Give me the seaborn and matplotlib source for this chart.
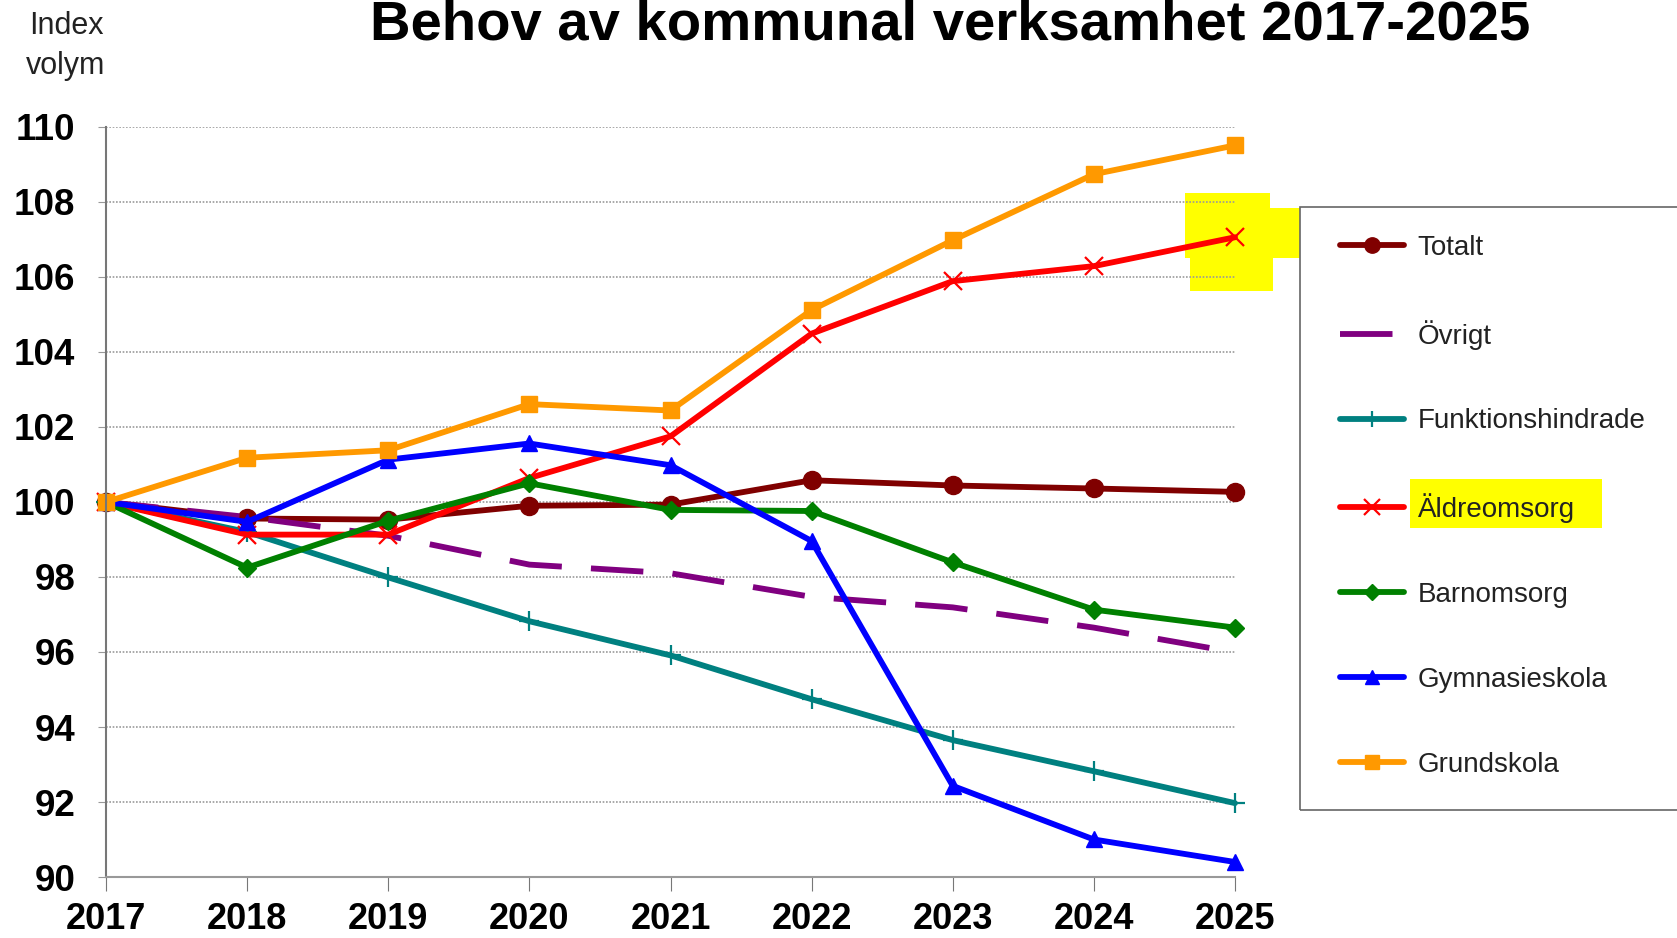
import matplotlib
matplotlib.use("Agg")
import matplotlib.pyplot as plt
from matplotlib.patches import Rectangle
import seaborn as sns

years = [2017, 2018, 2019, 2020, 2021, 2022, 2023, 2024, 2025]

totalt = [100, 99.56, 99.53, 99.9, 99.93, 100.58, 100.44, 100.36, 100.27]
ovrigt = [100, 99.6, 99.1, 98.33, 98.1, 97.47, 97.19, 96.65, 95.99]
funktionshindrade = [100, 99.2, 97.99, 96.82, 95.91, 94.74, 93.65, 92.82, 91.97]
aldreomsorg = [100, 99.13, 99.13, 100.64, 101.75, 104.49, 105.89, 106.29, 107.06]
barnomsorg = [100, 98.25, 99.5, 100.5, 99.79, 99.76, 98.39, 97.13, 96.65]
gymnasieskola = [100, 99.47, 101.13, 101.56, 100.98, 98.96, 92.43, 91.0, 90.4]
grundskola = [100, 101.18, 101.38, 102.61, 102.44, 105.12, 106.98, 108.74, 109.51]

series_names = ["Totalt", "Övrigt", "Funktionshindrade", "Äldreomsorg",
                "Barnomsorg", "Gymnasieskola", "Grundskola"]
series_values = [totalt, ovrigt, funktionshindrade, aldreomsorg,
                 barnomsorg, gymnasieskola, grundskola]
colors = ["#800000", "#800080", "#008080", "#FF0000", "#008000", "#0000FF", "#FF9900"]
markers = ["o", None, "+", "x", "D", "^", "s"]
msizes = [13, 0, 14, 13, 9, 12, 12]

yticks = list(range(90, 111, 2))

sns.set_style("white")
plt.rcParams["font.family"] = ["Liberation Sans", "DejaVu Sans"]

W, H = 1677, 938
fig = plt.figure(figsize=(W / 100, H / 100), dpi=100)
fig.patch.set_facecolor("white")
ax = fig.add_axes([106 / W, 1 - 877 / H, (1235 - 106) / W, (877 - 127) / H])
ax.set_facecolor("none")

for name, vals, c, m, ms in zip(series_names, series_values, colors, markers, msizes):
    kw = dict(x=years, y=vals, ax=ax, color=c, linewidth=4.2, label=name, clip_on=False)
    if m is None:
        sns.lineplot(**kw)
        ax.lines[-1].set_dashes((9, 5))
    else:
        sns.lineplot(**kw, marker=m, markersize=ms,
                     markeredgewidth=1.6 if m in ("x", "+") else 1,
                     markeredgecolor=c)

ax.set_xlim(2017, 2025)
ax.set_ylim(90, 110)
ax.set_xticks(years)
ax.set_yticks(yticks)
ax.set_xticklabels([str(y) for y in years], fontsize=26, fontweight="bold", color="black")
ax.set_yticklabels([str(y) for y in yticks], fontsize=26.5, fontweight="bold", color="black")
ax.set_xlabel("")
ax.set_ylabel("")
ax.yaxis.grid(True, color="#999999", linestyle=(0, (1, 1)), linewidth=1.2)
ax.tick_params(axis="y", length=6, color="#999999", pad=16, left=True)
ax.tick_params(axis="x", length=10, color="#777777", pad=8, bottom=True)
for s in ["top", "right"]:
    ax.spines[s].set_visible(False)
ax.spines["left"].set_color("#777777")
ax.spines["bottom"].set_color("#999999")
ax.spines["left"].set_linewidth(1.5)
ax.spines["bottom"].set_linewidth(1.5)

fig.text(950 / W, 1 - 26 / H, "Behov av kommunal verksamhet 2017-2025",
         fontsize=40.5, fontweight="bold", ha="center", va="center", color="black")
fig.text(66 / W, 1 - 46 / H, "Index\nvolym", fontsize=22,
         ha="center", va="center", linespacing=1.4, color="#222222")

# yellow highlights (marker at 2025 and legend label)
blobs = [(1185, 193, 1270, 215), (1185, 208, 1300, 258), (1190, 250, 1273, 291),
         (1410, 479, 1602, 528)]
for x0, y0, x1, y1 in blobs:
    fig.add_artist(Rectangle((x0 / W, 1 - y1 / H), (x1 - x0) / W, (y1 - y0) / H,
                             transform=fig.transFigure, facecolor="#FFFF00",
                             edgecolor="none", zorder=-1))

# legend box runs off the right edge of the picture
fig.add_artist(Rectangle((1300 / W, 1 - 810 / H), (1700 - 1300) / W, (810 - 207) / H,
                         transform=fig.transFigure, facecolor="none",
                         edgecolor="#666666", linewidth=1.2, zorder=3))

leg = ax.legend(loc="upper left", bbox_to_anchor=(1312 / W, 1 - 207 / H),
                bbox_transform=fig.transFigure, fontsize=20, frameon=False,
                handlelength=2.3, handletextpad=0.5,
                labelspacing=2.12, borderpad=1.0, borderaxespad=0,
                markerscale=0.85)
for t in leg.get_texts():
    t.set_color("#222222")

fig.savefig("out.png", dpi=100)
